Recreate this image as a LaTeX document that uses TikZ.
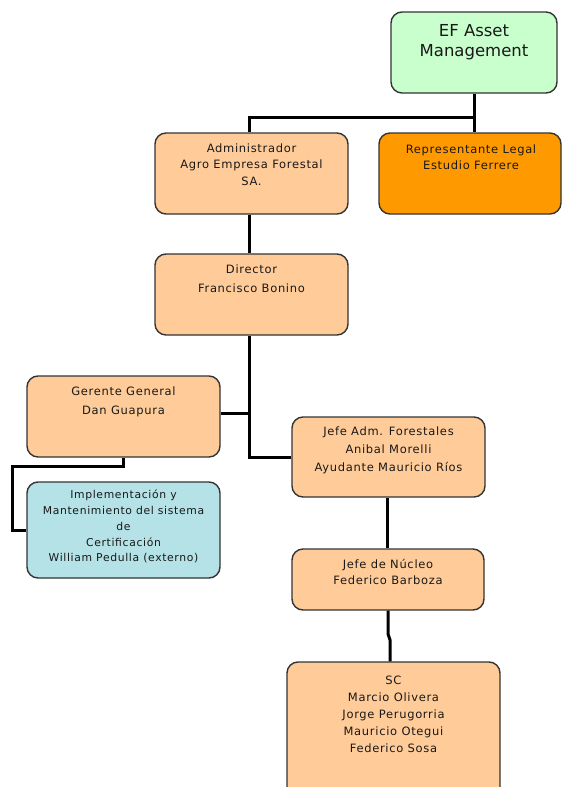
\documentclass[tikz,border=0pt]{standalone}
\usepackage{fontspec}
\setmainfont{DejaVu Sans}
\newfontfamily\spaced[LetterSpace=6]{DejaVu Sans}
\definecolor{peach}{HTML}{FFCC99}
\definecolor{orng}{HTML}{FF9900}
\definecolor{mint}{HTML}{C8FFCC}
\definecolor{powder}{HTML}{B4E2E6}
\definecolor{edge}{HTML}{333333}
\begin{document}
\begin{tikzpicture}[x=1pt,y=-1pt,
  box/.style={draw=edge,line width=1.4pt,rounded corners=11pt,inner sep=0pt,fill=peach},
  txt/.style={anchor=north,inner sep=0pt,align=center,text=black!90,font=\spaced\fontsize{11.5}{16.5}\selectfont},
  link/.style={line width=3pt,black}]
\useasboundingbox (0,0) rectangle (563,787);
\fill[white] (0,0) rectangle (563,787);
% boxes
\node[box,fill=mint,minimum width=166pt,minimum height=81pt] (ef) at (474,52.5) {};
\node[box,minimum width=193pt,minimum height=81pt] (adm) at (251.5,173.5) {};
\node[box,fill=orng,minimum width=182pt,minimum height=81pt] (rep) at (470,173.5) {};
\node[box,minimum width=193pt,minimum height=81pt] (dir) at (251.5,294.5) {};
\node[box,minimum width=193pt,minimum height=81pt] (ger) at (123.5,416.5) {};
\node[box,minimum width=193pt,minimum height=80pt] (jefe) at (388.5,457) {};
\node[box,fill=powder,minimum width=193pt,minimum height=96pt] (impl) at (123.5,530) {};
\node[box,minimum width=192pt,minimum height=61pt] (nuc) at (388,579.5) {};
\node[box,minimum width=213pt,minimum height=140pt] (sc) at (393.5,732) {};
% texts
\node[txt,font=\fontsize{16.5}{20}\selectfont] (tef) at (474,24) {EF Asset\\Management};
\node[txt] (tadm) at (251.5,143.5) {Administrador\\Agro Empresa Forestal\\SA.};
\node[txt] (trep) at (471,144.5) {Representante Legal\\Estudio Ferrere};
\node[txt,font=\spaced\fontsize{11.5}{19}\selectfont] (tdir) at (251.5,265) {Director\\Francisco Bonino};
\node[txt,font=\spaced\fontsize{11.5}{19}\selectfont] (tger) at (123.5,387) {Gerente General\\Dan Guapura};
\node[txt,font=\spaced\fontsize{11.5}{18}\selectfont] (tjefe) at (388.5,427) {Jefe Adm. Forestales\\Anibal Morelli\\Ayudante Mauricio R\'{\i}os};
\node[txt,font=\spaced\fontsize{10.8}{15.75}\selectfont] (timpl) at (123.5,490) {Implementaci\'on y\\Mantenimiento del sistema\\de\\Certificaci\'on\\William Pedulla (externo)};
\node[txt] (tnuc) at (388,559) {Jefe de N\'ucleo\\Federico Barboza};
\node[txt,font=\spaced\fontsize{11.5}{17}\selectfont] (tsc) at (393.5,676) {SC\\Marcio Olivera\\Jorge Perugorria\\Mauricio Otegui\\Federico Sosa};
% connectors
\coordinate (j1) at (474,117);
\coordinate (a1) at (249,117);
\draw[link] (ef.south) -- (j1) -- (a1) -- (a1 |- adm.north);
\draw[link] (j1) -- (rep.north -| j1);
\coordinate (d1) at (249,413);
\draw[link] (adm.south -| d1) -- (dir.north -| d1);
\draw[link] (dir.south -| d1) -- (d1 |- jefe.west) -- (jefe.west);
\draw[link] (ger.east |- d1) -- (d1);
\coordinate (g1) at (123,466);
\coordinate (g2) at (12,466);
\draw[link] (ger.south -| g1) -- (g1) -- (g2) -- (g2 |- impl.west) -- (impl.west);
\coordinate (k1) at (387,497);
\draw[link] (jefe.south -| k1) -- (nuc.north -| k1);
\coordinate (n1) at (388,634);
\coordinate (n2) at (390,640);
\draw[link] (nuc.south) -- (n1) -- (n2) -- (n2 |- sc.north);
\end{tikzpicture}
\end{document}
